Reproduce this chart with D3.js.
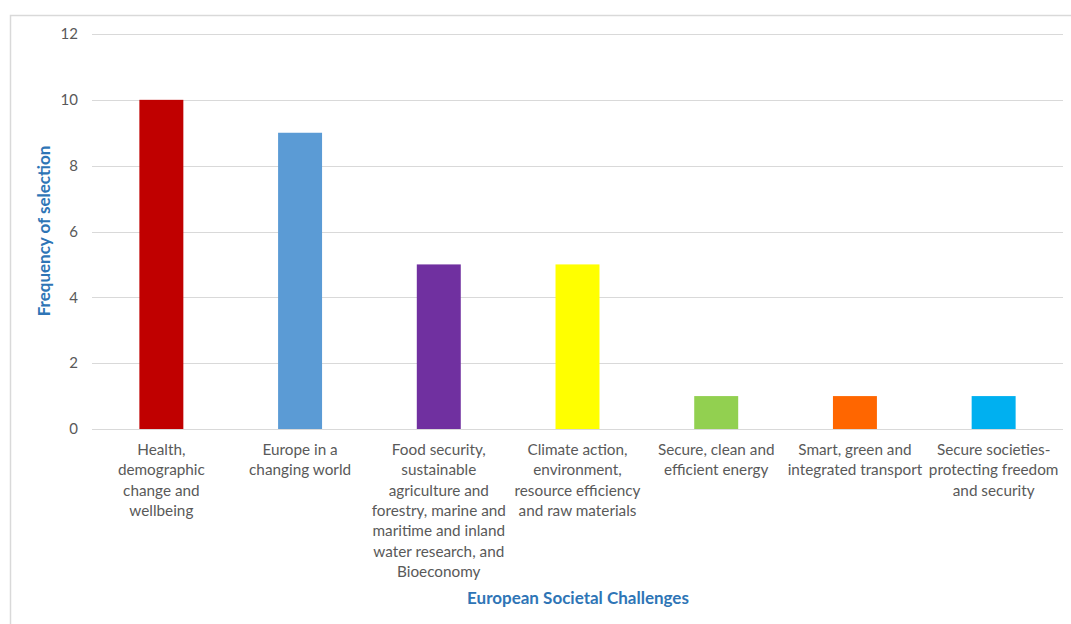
<!DOCTYPE html>
<html lang="en">
<head>
    <meta charset="UTF-8">
    <title>European Societal Challenges</title>
    <script src="https://d3js.org/d3.v7.min.js"></script>
    <style>
        body { margin: 0; background: #fff; font-family: Lato, "Open Sans", sans-serif; }
        .tick text { fill: #595959; font-size: 15px; }
        .cat { fill: #595959; font-size: 15.3px; }
        .axis-title { fill: #2E75B6; font-size: 17px; font-weight: bold; }
    </style>
</head>
<body>
    <svg width="1071" height="624"></svg>

    <script>
        const width = 1071, height = 624;

        const categories = [
            ["Health,", "demographic", "change and", "wellbeing"],
            ["Europe in a", "changing world"],
            ["Food security,", "sustainable", "agriculture and", "forestry, marine and", "maritime and inland", "water research, and", "Bioeconomy"],
            ["Climate action,", "environment,", "resource efficiency", "and raw materials"],
            ["Secure, clean and", "efficient energy"],
            ["Smart, green and", "integrated transport"],
            ["Secure societies-", "protecting freedom", "and security"]
        ];
        const values = [10, 9, 5, 5, 1, 1, 1];
        const colors = ["#C00000", "#5B9BD5", "#7030A0", "#FFFF00", "#92D050", "#FF6600", "#00B0F0"];
        const yTicks = [0, 2, 4, 6, 8, 10, 12];

        const svg = d3.select("svg");

        // chart frame
        svg.append("rect")
            .attr("x", 10.5).attr("y", 15.5)
            .attr("width", 1080).attr("height", 640)
            .attr("fill", "none")
            .attr("stroke", "#d9d9d9")
            .attr("stroke-width", 1.5);

        const x = d3.scaleBand()
            .domain(d3.range(categories.length))
            .range([92, 1063])
            .paddingInner(0.683)
            .paddingOuter(0.3415);

        const y = d3.scaleLinear().domain([0, 12]).range([429, 34]);

        // gridlines
        svg.append("g")
            .selectAll("line")
            .data(yTicks)
            .enter().append("line")
            .attr("x1", 92).attr("x2", 1063)
            .attr("y1", d => Math.round(y(d)) + 0.5)
            .attr("y2", d => Math.round(y(d)) + 0.5)
            .attr("stroke", "#d9d9d9")
            .attr("stroke-width", 1);

        const yAxis = svg.append("g")
            .attr("transform", "translate(92,0)")
            .call(d3.axisLeft(y).tickValues(yTicks).tickSize(0).tickPadding(14));
        yAxis.select(".domain").remove();
        yAxis.selectAll(".tick text").attr("font-family", "Lato, sans-serif");

        svg.append("g")
            .selectAll("rect")
            .data(values)
            .enter().append("rect")
            .attr("x", (d, i) => x(i))
            .attr("y", d => y(d))
            .attr("width", x.bandwidth())
            .attr("height", d => y(0) - y(d))
            .attr("fill", (d, i) => colors[i]);

        // category labels
        const labels = svg.append("g")
            .selectAll("text")
            .data(categories)
            .enter().append("text")
            .attr("class", "cat")
            .attr("text-anchor", "middle")
            .attr("x", (d, i) => x(i) + x.bandwidth() / 2)
            .attr("y", 455);
        labels.selectAll("tspan")
            .data(d => d)
            .enter().append("tspan")
            .attr("x", function() { return this.parentNode.getAttribute("x"); })
            .attr("dy", (d, i) => i === 0 ? 0 : 20.3)
            .text(d => d);

        svg.append("text")
            .attr("class", "axis-title")
            .attr("text-anchor", "middle")
            .attr("x", 578).attr("y", 604)
            .text("European Societal Challenges");

        svg.append("text")
            .attr("class", "axis-title")
            .attr("text-anchor", "middle")
            .attr("transform", "translate(50,231) rotate(-90)")
            .text("Frequency of selection");
    </script>
</body>
</html>
